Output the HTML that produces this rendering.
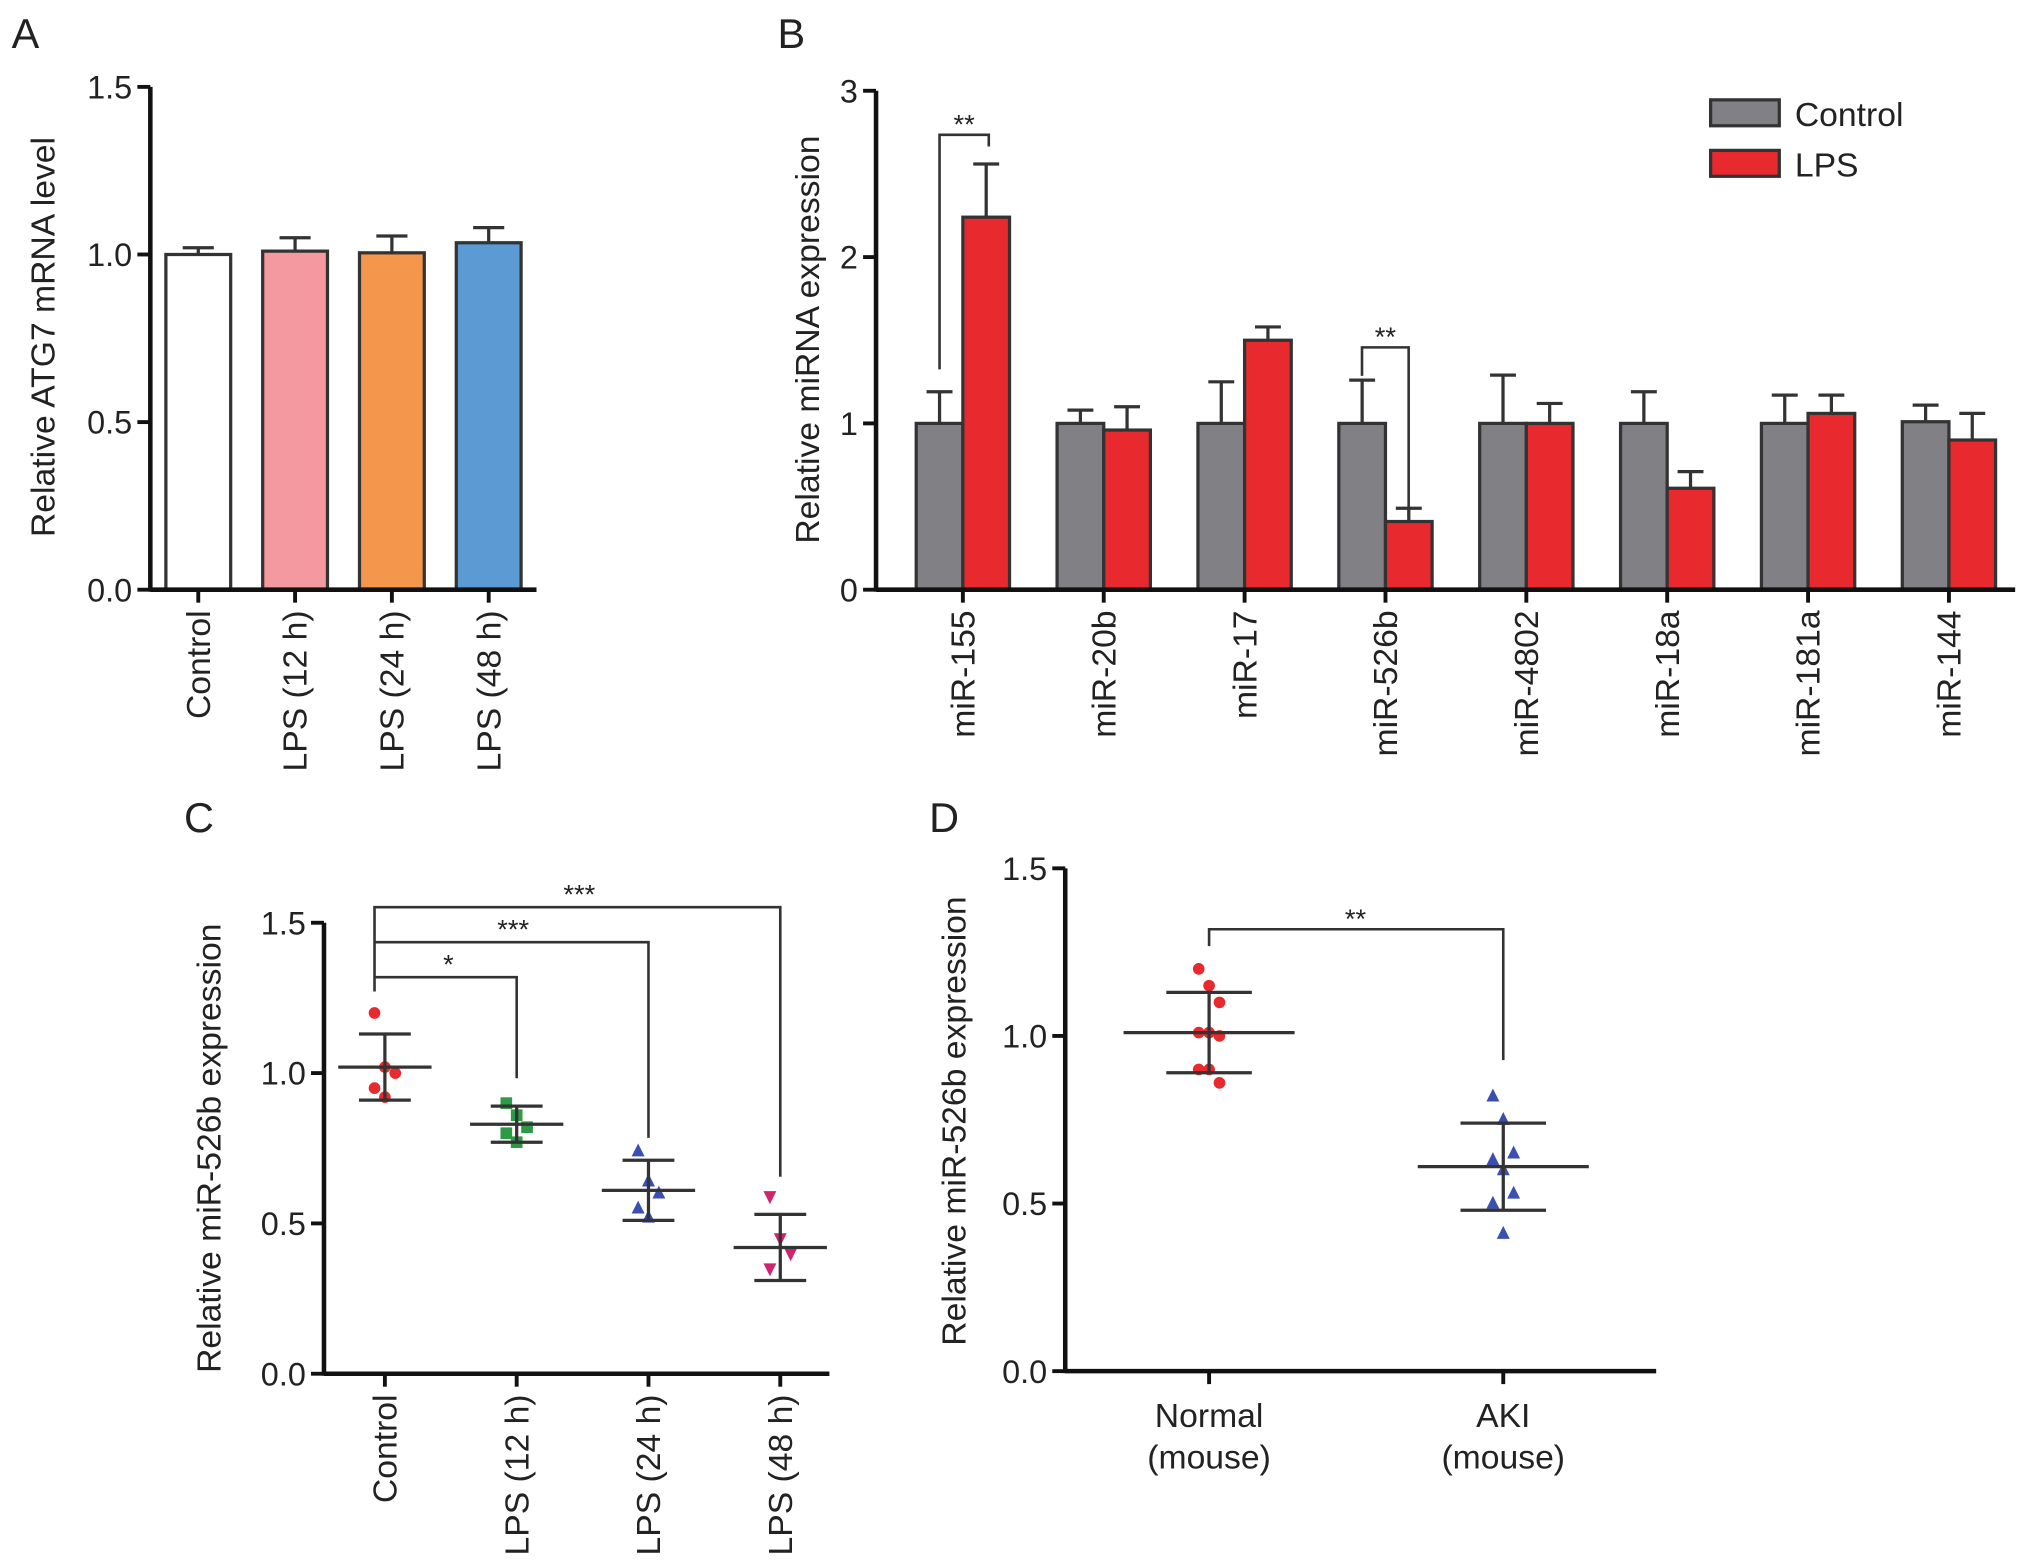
<!DOCTYPE html>
<html><head><meta charset="utf-8"><style>
html,body{margin:0;padding:0;background:#fff;}
svg{display:block;font-family:"Liberation Sans",Arial,sans-serif;}
</style></head><body>
<svg id="fig" width="2032" height="1563" viewBox="0 0 1568 1206" xmlns="http://www.w3.org/2000/svg"></svg>
<script>
// Panel A data
const aCats = ["Control","LPS (12 h)","LPS (24 h)","LPS (48 h)"];
const aVals = [1.0, 1.01, 1.005, 1.035];
const aErr = [0.02, 0.04, 0.05, 0.045];
const aColors = ["#ffffff","#f4999f","#f4964c","#5b9ad2"];
const aTicks = ["0.0","0.5","1.0","1.5"];
// Panel B data
const bCats = ["miR-155","miR-20b","miR-17","miR-526b","miR-4802","miR-18a","miR-181a","miR-144"];
const bCtrl = [1,1,1,1,1,1,1,1.01];
const bCtrlErr = [0.19,0.08,0.25,0.26,0.29,0.19,0.17,0.10];
const bLps = [2.24,0.96,1.5,0.41,1.0,0.61,1.06,0.9];
const bLpsErr = [0.32,0.14,0.08,0.08,0.12,0.10,0.11,0.16];
const bTicks = ["0","1","2","3"];
// Panel C data
const cCats = ["Control","LPS (12 h)","LPS (24 h)","LPS (48 h)"];
const cMean = [1.02,0.83,0.61,0.42];
const cSd = [0.11,0.06,0.10,0.11];
const cPts = [[1.2,1.02,1.0,0.95,0.92],[0.9,0.86,0.82,0.80,0.77],[0.74,0.64,0.60,0.55,0.52],[0.59,0.45,0.40,0.35]];
const cTicks = ["0.0","0.5","1.0","1.5"];
// Panel D data
const dCats = [["Normal","(mouse)"],["AKI","(mouse)"]];
const dMean = [1.01,0.61];
const dSd = [0.12,0.13];
const dPts = [[1.2,1.15,1.1,1.01,1.01,1.0,0.9,0.9,0.86],[0.82,0.75,0.65,0.63,0.60,0.53,0.5,0.41]];
const dTicks = ["0.0","0.5","1.0","1.5"];

const FS=25, TS=26;
const svg=document.getElementById('fig');
const NS="http://www.w3.org/2000/svg";
function mk(tag,attrs,parent,name,text){
  const e=document.createElementNS(NS,tag);
  for(const k in attrs)e.setAttribute(k,attrs[k]);
  
  
  if(text!==undefined)e.textContent=text;
  (parent||svg).appendChild(e);return e;
}
function line(x1,y1,x2,y2,w,name,col,p){return mk('line',{x1,y1,x2,y2,stroke:col||'#111','stroke-width':w||2},p,name);}
function txt(x,y,s,size,anchor,name,p,extra){const a=Object.assign({x,y,'font-size':size,'text-anchor':anchor||'middle',fill:'#222'},extra||{});return mk('text',a,p,name,s);}
function yAxis(g,x,y0,y1,ticks,vmax){
  line(x,y0+1.5,x,y1,3.5,'y-axis-line','#111',g);
  ticks.forEach((t,i)=>{const y=y0-(y0-y1)*(parseFloat(t)/vmax);
    line(x-10,y,x,y,3,'y-tick','#111',g);
    txt(x-14,y+9,t,FS,'end','y-tick-label',g);});
}
// ---------- Panel A ----------
(function(){
  const g=mk('g',{},svg,'panel-a');
  txt(9,37,'A',32,'start','panel-label-a',g);
  const y0=455,y1=67,vmax=1.5,ax=116;
  const Y=v=>y0-(y0-y1)*v/vmax;
  const X=i=>153+i*74.7;
  aCats.forEach((c,i)=>{
    const x=X(i),w=50;
    line(x,Y(aVals[i]),x,Y(aVals[i]+aErr[i]),2.5,'error-bar','#333',g);
    line(x-12,Y(aVals[i]+aErr[i]),x+12,Y(aVals[i]+aErr[i]),2.5,'error-cap','#333',g);
    mk('rect',{x:x-w/2,y:Y(aVals[i]),width:w,height:y0-Y(aVals[i]),fill:aColors[i],stroke:'#333','stroke-width':2.5},g,'bar-'+c.toLowerCase().replace(/[^a-z0-9]+/g,'-'));
    line(x,y0,x,y0+10,3,'x-tick','#111',g);
    txt(0,0,c,TS,'end','x-tick-label',g,{transform:`translate(${x+9},${y0+16}) rotate(-90)`});
  });
  line(ax,y0,414,y0,3.5,'x-axis-line','#111',g);
  yAxis(g,ax,y0,y1,aTicks,vmax);
  txt(0,0,'Relative ATG7 mRNA level',TS,'middle','y-axis-title',g,{transform:'translate(42,260) rotate(-90)'});
})();
// ---------- Panel B ----------
(function(){
  const g=mk('g',{},svg,'panel-b');
  txt(600,37,'B',32,'start','panel-label-b',g);
  const y0=455,y1=70,vmax=3,ax=676;
  const Y=v=>y0-(y0-y1)*v/vmax;
  const X=i=>743+i*108.7;
  bCats.forEach((c,i)=>{
    const x=X(i),w=36;
    [[bCtrl,bCtrlErr,x-w/2,'#808085','bar-control-'],[bLps,bLpsErr,x+w/2,'#e8292d','bar-lps-']].forEach(s=>{
      const v=s[0][i],e=s[1][i],cx=s[2];
      line(cx,Y(v),cx,Y(v+e),2.5,'error-bar','#333',g);
      line(cx-10,Y(v+e),cx+10,Y(v+e),2.5,'error-cap','#333',g);
      mk('rect',{x:cx-w/2,y:Y(v),width:w,height:y0-Y(v),fill:s[3],stroke:'#333','stroke-width':2.5},g,s[4]+c.toLowerCase());
    });
    line(x,y0,x,y0+10,3,'x-tick','#111',g);
    txt(0,0,c,TS,'end','x-tick-label',g,{transform:`translate(${x+9},${y0+16}) rotate(-90)`});
  });
  line(ax,y0,1555,y0,3.5,'x-axis-line','#111',g);
  yAxis(g,ax,y0,y1,bTicks,vmax);
  txt(0,0,'Relative  miRNA expression',TS,'middle','y-axis-title',g,{transform:'translate(632,262) rotate(-90)','xml:space':'preserve'});
  const br=(xa,ya,xb,yb,ytop,name)=>mk('polyline',{points:`${xa},${ya} ${xa},${ytop} ${xb},${ytop} ${xb},${yb}`,fill:'none',stroke:'#333','stroke-width':2},g,name);
  br(725,285,763,113,104,'sig-bracket-mir155');txt(744,103,'**',21,'middle','sig-label',g);
  br(1051,290,1087,398,268,'sig-bracket-mir526b');txt(1069,267,'**',21,'middle','sig-label',g);
  mk('rect',{x:1320,y:77,width:53,height:20,fill:'#808085',stroke:'#333','stroke-width':2.5},g,'legend-swatch-control');
  txt(1385,97,'Control',TS,'start','legend-label-control',g);
  mk('rect',{x:1320,y:116,width:53,height:20,fill:'#e8292d',stroke:'#333','stroke-width':2.5},g,'legend-swatch-lps');
  txt(1385,136,'LPS',TS,'start','legend-label-lps',g);
})();
// ---------- markers ----------
function marker(g,type,x,y,col){
  if(type==='circle')return mk('circle',{cx:x,cy:y,r:4.5,fill:col},g,'data-point');
  if(type==='square')return mk('rect',{x:x-4.5,y:y-4.5,width:9,height:9,fill:col},g,'data-point');
  if(type==='tri')return mk('polygon',{points:`${x},${y-6} ${x-5},${y+4} ${x+5},${y+4}`,fill:col},g,'data-point');
  return mk('polygon',{points:`${x},${y+6} ${x-5},${y-4} ${x+5},${y-4}`,fill:col},g,'data-point');
}
// ---------- Panel C ----------
(function(){
  const g=mk('g',{},svg,'panel-c');
  txt(142,642,'C',32,'start','panel-label-c',g);
  const y0=1060,y1=712,vmax=1.5,ax=250;
  const Y=v=>y0-(y0-y1)*v/vmax;
  const X=i=>297+i*101.7;
  const types=['circle','square','tri','dtri'],cols=['#e8292d','#2e9a47','#3a4fb0','#d0246e'];
  cCats.forEach((c,i)=>{
    const x=X(i);
    cPts[i].forEach((v,j)=>marker(g,types[i],x+((j%3)-1)*8,Y(v),cols[i]));
    line(x,Y(cMean[i]-cSd[i]),x,Y(cMean[i]+cSd[i]),2.5,'sd-line','#333',g);
    line(x-20,Y(cMean[i]+cSd[i]),x+20,Y(cMean[i]+cSd[i]),2.5,'sd-cap','#333',g);
    line(x-20,Y(cMean[i]-cSd[i]),x+20,Y(cMean[i]-cSd[i]),2.5,'sd-cap','#333',g);
    line(x-36,Y(cMean[i]),x+36,Y(cMean[i]),2.5,'mean-line','#333',g);
    line(x,y0,x,y0+10,3,'x-tick','#111',g);
    txt(0,0,c,TS,'end','x-tick-label',g,{transform:`translate(${x+9},${y0+16}) rotate(-90)`});
  });
  line(ax,y0,640,y0,3.5,'x-axis-line','#111',g);
  yAxis(g,ax,y0,y1,cTicks,vmax);
  txt(0,0,'Relative  miR-526b expression',TS,'middle','y-axis-title',g,{transform:'translate(170,886) rotate(-90)','xml:space':'preserve'});
  const xl=289;
  mk('polyline',{points:`${xl},765 ${xl},700 ${X(3)},700 ${X(3)},908`,fill:'none',stroke:'#333','stroke-width':2},g,'sig-bracket-48h');
  mk('polyline',{points:`${xl},727 ${X(2)},727 ${X(2)},878`,fill:'none',stroke:'#333','stroke-width':2},g,'sig-bracket-24h');
  mk('polyline',{points:`${xl},754 ${X(1)},754 ${X(1)},832`,fill:'none',stroke:'#333','stroke-width':2},g,'sig-bracket-12h');
  txt(447,697,'***',21,'middle','sig-label',g);
  txt(396,724,'***',21,'middle','sig-label',g);
  txt(346,751,'*',21,'middle','sig-label',g);
})();
// ---------- Panel D ----------
(function(){
  const g=mk('g',{},svg,'panel-d');
  txt(717,642,'D',32,'start','panel-label-d',g);
  const y0=1058,y1=670,vmax=1.5,ax=822;
  const Y=v=>y0-(y0-y1)*v/vmax;
  const X=i=>933+i*227;
  const types=['circle','tri'],cols=['#e8292d','#3a4fb0'];
  dCats.forEach((c,i)=>{
    const x=X(i);
    dPts[i].forEach((v,j)=>marker(g,types[i],x+((j%3)-1)*8,Y(v),cols[i]));
    line(x,Y(dMean[i]-dSd[i]),x,Y(dMean[i]+dSd[i]),2.5,'sd-line','#333',g);
    line(x-33,Y(dMean[i]+dSd[i]),x+33,Y(dMean[i]+dSd[i]),2.5,'sd-cap','#333',g);
    line(x-33,Y(dMean[i]-dSd[i]),x+33,Y(dMean[i]-dSd[i]),2.5,'sd-cap','#333',g);
    line(x-66,Y(dMean[i]),x+66,Y(dMean[i]),2.5,'mean-line','#333',g);
    line(x,y0,x,y0+10,3,'x-tick','#111',g);
    txt(x,y0+43,c[0],TS,'middle','x-tick-label',g);
    txt(x,y0+75,c[1],TS,'middle','x-tick-label',g);
  });
  line(ax,y0,1278,y0,3.5,'x-axis-line','#111',g);
  yAxis(g,ax,y0,y1,dTicks,vmax);
  txt(0,0,'Relative  miR-526b expression',TS,'middle','y-axis-title',g,{transform:'translate(745,865) rotate(-90)','xml:space':'preserve'});
  mk('polyline',{points:`${X(0)},730 ${X(0)},717 ${X(1)},717 ${X(1)},818`,fill:'none',stroke:'#333','stroke-width':2},g,'sig-bracket');
  txt(1046,716,'**',21,'middle','sig-label',g);
})();
</script>
</body></html>
